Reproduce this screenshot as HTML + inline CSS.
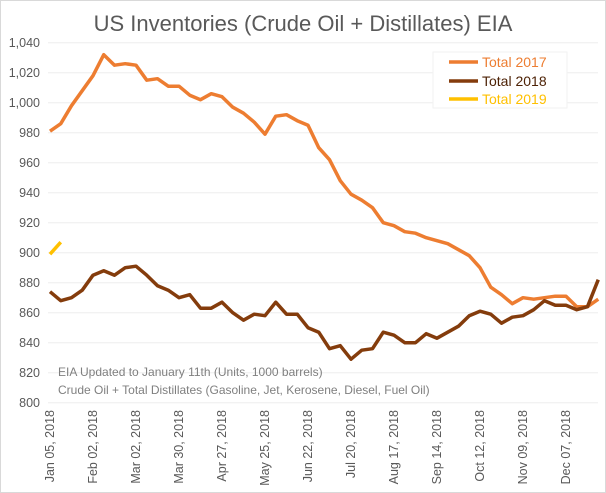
<!DOCTYPE html>
<html><head><meta charset="utf-8"><style>
html,body{margin:0;padding:0;background:#fff;}
svg{display:block;font-family:"Liberation Sans",sans-serif;}
</style></head><body>
<svg id="c" width="606" height="493" viewBox="0 0 606 493">
<rect x="0.5" y="0.5" width="605" height="492" fill="#fff" stroke="#d9d9d9"/>
<text x="303" y="31" text-anchor="middle" font-size="22" fill="#595959">US Inventories (Crude Oil + Distillates) EIA</text>
<g id="grid"></g><g id="yt"></g><g id="xt"></g><g id="series"></g>
<text x="58" y="376" font-size="12" fill="#7f7f7f">EIA  Updated to January 11th (Units, 1000 barrels)</text>
<text x="58" y="394" font-size="12" fill="#7f7f7f">Crude Oil + Total Distillates (Gasoline, Jet, Kerosene, Diesel, Fuel Oil)</text>
<g>
<rect x="433" y="52" width="134" height="56" fill="#fff" stroke="#f2f2f2"/>
<line x1="449" y1="62" x2="478" y2="62" stroke="#ED7D31" stroke-width="3.5"/>
<text x="482" y="67" font-size="14" fill="#ED7D31">Total 2017</text>
<line x1="449" y1="81" x2="478" y2="81" stroke="#843C0C" stroke-width="3.5"/>
<text x="482" y="86" font-size="14" fill="#4d2206">Total 2018</text>
<line x1="449" y1="99" x2="478" y2="99" stroke="#FFC000" stroke-width="3.5"/>
<text x="482" y="104" font-size="14" fill="#FFC000">Total 2019</text>
</g>
</svg>
<script>
const yTicks=[800,820,840,860,880,900,920,940,960,980,1000,1020,1040];
const xLabels=["Jan 05, 2018","Feb 02, 2018","Mar 02, 2018","Mar 30, 2018","Apr 27, 2018","May 25, 2018","Jun 22, 2018","Jul 20, 2018","Aug 17, 2018","Sep 14, 2018","Oct 12, 2018","Nov 09, 2018","Dec 07, 2018"];
const total2017=[981,986,998,1008,1018,1032,1025,1026,1025,1015,1016,1011,1011,1005,1002,1006,1004,997,993,987,979,991,992,988,985,970,962,948,939,935,930,920,918,914,913,910,908,906,902,898,890,877,872,866,870,869,870,871,871,864,864,869];
const total2018=[874,868,870,875,885,888,885,890,891,885,878,875,870,872,863,863,867,860,855,859,858,867,859,859,850,847,836,838,829,835,836,847,845,840,840,846,843,847,851,858,861,859,853,857,858,862,868,865,865,862,864,882];
const total2019=[899,907];
const NS="http://www.w3.org/2000/svg";
const x0=50,dx=10.75,yTop=42.7,yBot=402.7,vMin=800,vMax=1040;
function xs(i){return x0+i*dx;}
function ys(v){return yBot-(v-vMin)/(vMax-vMin)*(yBot-yTop);}
function mk(t,a,p){const e=document.createElementNS(NS,t);for(const k in a)e.setAttribute(k,a[k]);p.appendChild(e);return e;}
const grid=document.getElementById('grid'),yt=document.getElementById('yt'),xt=document.getElementById('xt'),ser=document.getElementById('series');
yTicks.forEach(v=>{
 const l=mk('line',{x1:48,x2:598,y1:ys(v),y2:ys(v),stroke:'#eeeeee','stroke-width':1},grid);
 
 
 const t=mk('text',{x:40,y:ys(v)+4.5,'text-anchor':'end','font-size':12.5,fill:'#595959'},yt);
 t.textContent=v.toLocaleString('en-US');
 
 
});
xLabels.forEach((s,k)=>{
 const x=xs(k*4)+4,y=410;
 const t=mk('text',{x:x,y:y,'text-anchor':'end','font-size':12.5,fill:'#595959',transform:'rotate(-90 '+x+' '+y+')'},xt);
 t.textContent=s;
 
 
});
function line(arr,col,name){
 const p=mk('polyline',{points:arr.map((v,i)=>xs(i)+','+ys(v)).join(' '),fill:'none',stroke:col,'stroke-width':3.5,'stroke-linejoin':'round'},ser);
 
 
}
line(total2017,'#ED7D31','series-total-2017');
line(total2018,'#843C0C','series-total-2018');
line(total2019,'#FFC000','series-total-2019');
</script>
</body></html>
